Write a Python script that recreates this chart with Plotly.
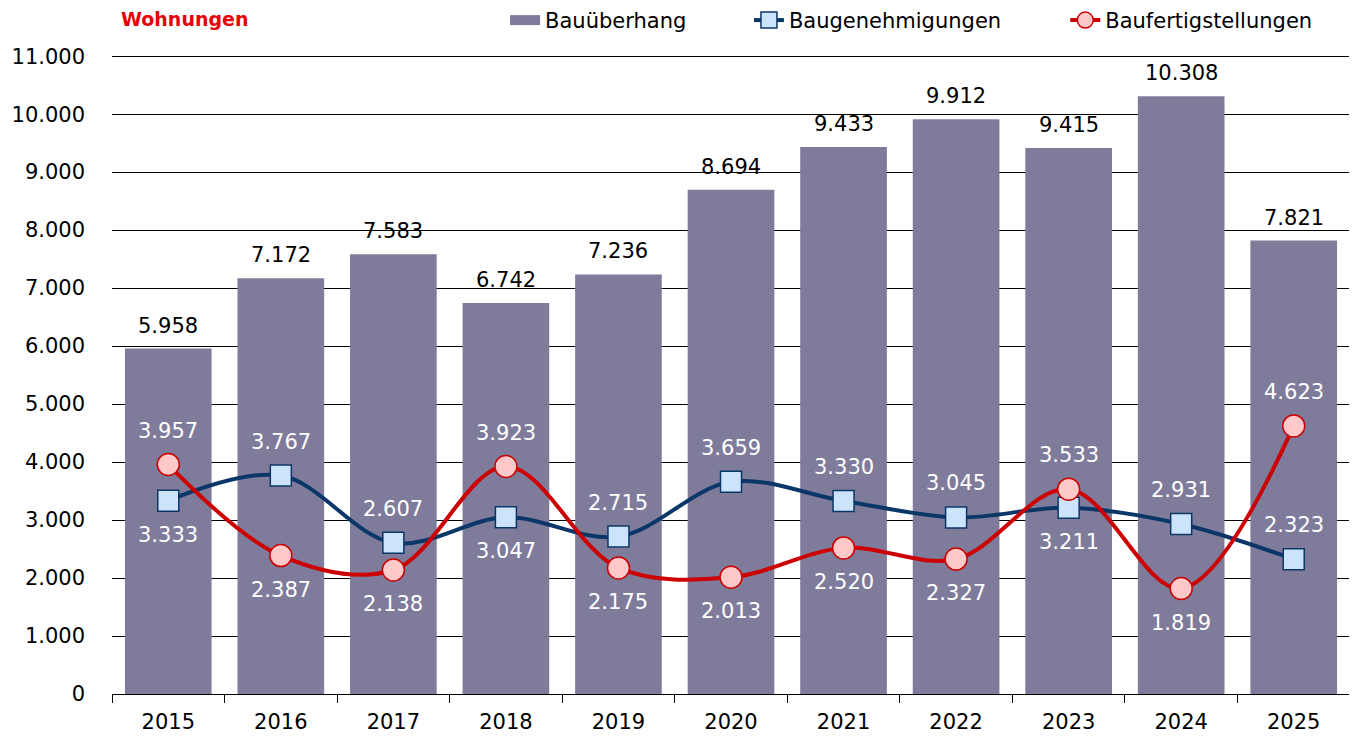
import plotly.graph_objects as go

years = ["2015", "2016", "2017", "2018", "2019", "2020", "2021", "2022", "2023", "2024", "2025"]
bauueberhang = [5958, 7172, 7583, 6742, 7236, 8694, 9433, 9912, 9415, 10308, 7821]
baugenehmigungen = [3333, 3767, 2607, 3047, 2715, 3659, 3330, 3045, 3211, 2931, 2323]
baufertigstellungen = [3957, 2387, 2138, 3923, 2175, 2013, 2520, 2327, 3533, 1819, 4623]
# +1 = label above the marker, -1 = label below
gen_label_side = [-1, 1, 1, -1, 1, 1, 1, 1, -1, 1, 1]
fert_label_side = [1, -1, -1, 1, -1, -1, -1, -1, 1, -1, 1]
y_ticks = list(range(0, 11001, 1000))

FONT = "DejaVu Sans, sans-serif"
FS = 21
BAR_COLOR = "#7f7b9b"
BLUE = "#0b3768"
RED = "#cc0000"


def fmt(v):
    return f"{v:,}".replace(",", ".")


fig = go.Figure()
fig.add_trace(go.Bar(
    x=years, y=bauueberhang, name="Bauüberhang", showlegend=False,
    marker=dict(color=BAR_COLOR, line=dict(width=0)),
))
# legend-only entry giving the bar series a wide swatch
fig.add_trace(go.Scatter(
    x=[None], y=[None], name="Bauüberhang", mode="lines", legend="legend",
    line=dict(color=BAR_COLOR, width=14), hoverinfo="skip",
))
fig.add_trace(go.Scatter(
    x=years, y=baugenehmigungen, name="Baugenehmigungen", mode="lines+markers", legend="legend2",
    line=dict(color=BLUE, width=4, shape="spline", smoothing=1.0),
    marker=dict(symbol="square", size=21, color="#cce4fb", line=dict(color=BLUE, width=1.5)),
))
fig.add_trace(go.Scatter(
    x=years, y=baufertigstellungen, name="Baufertigstellungen", mode="lines+markers", legend="legend3",
    line=dict(color=RED, width=4, shape="spline", smoothing=1.0),
    marker=dict(symbol="circle", size=22, color="#ffc9c9", line=dict(color=RED, width=1.5)),
))

annotations = []
for i, v in enumerate(bauueberhang):
    annotations.append(dict(x=i, y=v, text=fmt(v), showarrow=False, yanchor="bottom",
                            yshift=9, font=dict(family=FONT, size=FS, color="#000000")))
for i, (v, s) in enumerate(zip(baugenehmigungen, gen_label_side)):
    annotations.append(dict(x=i, y=v, text=fmt(v), showarrow=False, yanchor="middle",
                            yshift=34 * s, font=dict(family=FONT, size=FS, color="#ffffff")))
for i, (v, s) in enumerate(zip(baufertigstellungen, fert_label_side)):
    annotations.append(dict(x=i, y=v, text=fmt(v), showarrow=False, yanchor="middle",
                            yshift=34 * s, font=dict(family=FONT, size=FS, color="#ffffff")))
annotations.append(dict(xref="paper", yref="paper", x=0.006, y=1.0, yshift=36,
                        xanchor="left", yanchor="middle", text="<b>Wohnungen</b>",
                        showarrow=False, font=dict(family=FONT, size=19, color="#e8000b")))

legend_common = dict(orientation="h", yref="container", y=0.983, yanchor="middle",
                     xanchor="left", font=dict(family=FONT, size=FS, color="#000000"),
                     bgcolor="rgba(0,0,0,0)", borderwidth=0)

fig.update_layout(
    width=1349, height=732,
    margin=dict(l=104, r=7, t=47, b=46, autoexpand=False),
    paper_bgcolor="white", plot_bgcolor="white",
    separators=",.",
    font=dict(family=FONT, size=FS, color="#000000"),
    bargap=0.23,
    showlegend=True,
    legend=dict(x=0.3175, **legend_common),
    legend2=dict(x=0.5145, **legend_common),
    legend3=dict(x=0.770, **legend_common),
    annotations=annotations,
    xaxis=dict(type="category", range=[-0.5, len(years) - 0.5], showline=True,
               linecolor="#000000", linewidth=1, automargin=False,
               ticks="outside", tickson="boundaries", ticklen=8, tickcolor="#000000",
               ticklabelstandoff=9,
               showgrid=False, tickfont=dict(size=FS), tickangle=0, fixedrange=True),
    yaxis=dict(range=[0, 11020], tickvals=y_ticks, tickformat=",d", automargin=False,
               showgrid=True, gridcolor="#000000", gridwidth=1, zeroline=False,
               showline=False, ticks="", ticklabelstandoff=26,
               tickfont=dict(size=FS), fixedrange=True),
)

fig.write_html("out.html")
